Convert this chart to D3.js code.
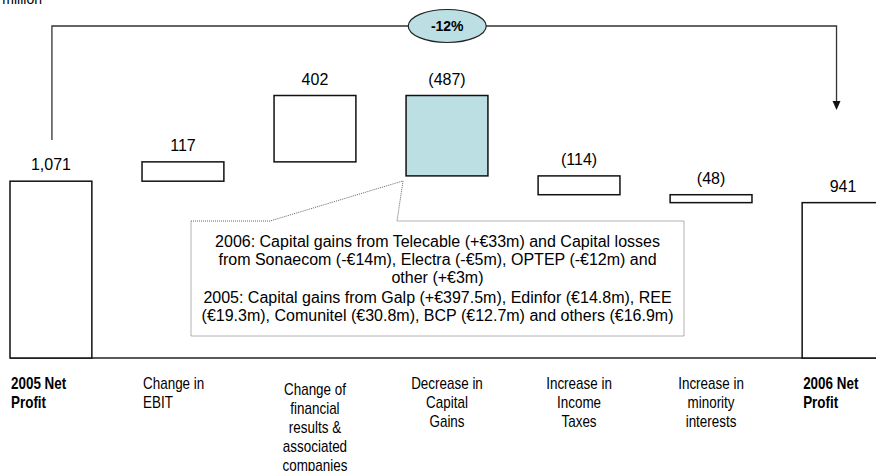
<!DOCTYPE html>
<html>
<head>
<meta charset="utf-8">
<script src="https://cdn.jsdelivr.net/npm/d3@7"></script>
<style>
  body { margin: 0; background: #fff; }
  svg { display: block; }
</style>
</head>
<body>
<div id="chart"></div>
<script>
// Net profit bridge 2005 -> 2006 (EUR million)
var categories = [
  ["2005 Net", "Profit"],
  ["Change in", "EBIT"],
  ["Change of", "financial", "results &", "associated", "companies"],
  ["Decrease in", "Capital", "Gains"],
  ["Increase in", "Income", "Taxes"],
  ["Increase in", "minority", "interests"],
  ["2006 Net", "Profit"]
];
var values = [1071, 117, 402, -487, -114, -48, 941];
var isTotal = [true, false, false, false, false, false, true];
var changeLabel = "-12%";
var unitLabel = "€ million";
var noteLines = [
  ["2006: Capital gains from Telecable (+€33m) and Capital losses",
   "from Sonaecom (-€14m), Electra (-€5m), OPTEP (-€12m) and",
   "other (+€3m)"],
  ["2005: Capital gains from Galp (+€397.5m), Edinfor (€14.8m), REE",
   "(€19.3m), Comunitel (€30.8m), BCP (€12.7m) and others (€16.9m)"]
];

var width = 876, height = 471;

// build waterfall steps
var running = 0;
var steps = values.map(function(v, i) {
  var s;
  if (isTotal[i]) { s = {start: 0, end: v}; running = v; }
  else { s = {start: running, end: running + v}; running += v; }
  s.value = v; s.i = i;
  return s;
});

var svg = d3.select("#chart").append("svg")
  .attr("width", width)
  .attr("height", height);

var x = d3.scaleBand()
  .domain(d3.range(values.length))
  .range([10, 884])
  .paddingInner(0.38)
  .paddingOuter(0);

var y = d3.scaleLinear()
  .domain([0, d3.max(steps, function(d) { return Math.max(d.start, d.end); })])
  .range([358, 95.5]);

var fmt = d3.format(",");

// unit label, cut at the top edge
svg.append("text")
  .attr("x", 42).attr("y", 4)
  .attr("text-anchor", "end")
  .style("font", "14px 'Liberation Sans', Arial, sans-serif")
  .text(unitLabel);

// baseline
svg.append("line")
  .attr("x1", 10).attr("x2", width)
  .attr("y1", y(0)).attr("y2", y(0))
  .attr("stroke", "#222").attr("stroke-width", 1.3);

// callout box with pointer to the capital gains bar
var blue = steps[3];
var bx0 = 191, bx1 = 684, by0 = 221, by1 = 336;
var tipX = x(3) - 3, tipY = y(Math.min(blue.start, blue.end)) + 5;
svg.append("path")
  .attr("d", d3.line()([[bx0, by0], [270, by0], [tipX, tipY], [397, by0],
    [bx1, by0], [bx1, by1], [bx0, by1]]) + "Z")
  .attr("fill", "#fff")
  .attr("stroke", "#666")
  .attr("stroke-width", 1)
  .attr("stroke-dasharray", "1,1");

var note = svg.append("g")
  .style("font", "16px 'Liberation Sans', Arial, sans-serif")
  .attr("text-anchor", "middle");
var ly = 247;
noteLines.forEach(function(par, pi) {
  if (pi > 0) ly += 2;
  par.forEach(function(line) {
    note.append("text")
      .attr("x", (bx0 + bx1) / 2)
      .attr("y", ly)
      .text(line);
    ly += 18;
  });
});

// bars
svg.selectAll("rect.bar")
  .data(steps)
  .enter()
  .append("rect")
  .attr("class", "bar")
  .attr("x", function(d) { return x(d.i); })
  .attr("width", x.bandwidth())
  .attr("y", function(d) { return y(Math.max(d.start, d.end)); })
  .attr("height", function(d) { return Math.abs(y(d.start) - y(d.end)); })
  .attr("fill", function(d) { return d.i === 3 ? "#bbdfe3" : "#fff"; })
  .attr("stroke", "#111")
  .attr("stroke-width", 1.5);

// value labels
svg.selectAll("text.val")
  .data(steps)
  .enter()
  .append("text")
  .attr("class", "val")
  .attr("x", function(d) { return x(d.i) + x.bandwidth() / 2; })
  .attr("y", function(d) { return y(Math.max(d.start, d.end)) - 11; })
  .attr("text-anchor", "middle")
  .style("font", "16px 'Liberation Sans', Arial, sans-serif")
  .text(function(d) { return d.value < 0 ? "(" + fmt(-d.value) + ")" : fmt(d.value); });

// category labels (narrow look, squeezed horizontally)
var cat = svg.selectAll("text.cat")
  .data(categories)
  .enter()
  .append("text")
  .attr("class", "cat")
  .style("font-family", "'Liberation Sans', Arial, sans-serif")
  .style("font-size", "16px")
  .style("font-weight", function(d, i) { return isTotal[i] ? "bold" : "normal"; })
  .attr("text-anchor", function(d, i) { return (isTotal[i] || i === 1) ? "start" : "middle"; })
  .attr("transform", function(d, i) {
    var tx = (isTotal[i] || i === 1) ? x(i) + 1 : x(i) + x.bandwidth() / 2;
    var ty = d.length > 3 ? 395 : 389;
    return "translate(" + tx + "," + ty + ") scale(0.84,1)";
  });

cat.selectAll("tspan")
  .data(function(d) { return d; })
  .enter()
  .append("tspan")
  .attr("x", 0)
  .attr("dy", function(d, j) { return j === 0 ? 0 : 19; })
  .text(function(d) { return d; });

// change bracket from first to last total
var lx = x(0) + x.bandwidth() / 2 + 1;
var rx = x(values.length - 1) + x.bandwidth() * 0.42;
var topY = 26;
svg.append("path")
  .attr("d", d3.line()([[lx, 140], [lx, topY], [rx, topY], [rx, 103]]))
  .attr("fill", "none")
  .attr("stroke", "#333")
  .attr("stroke-width", 1.3);
svg.append("path")
  .attr("d", d3.line()([[rx - 4, 101], [rx + 4, 101], [rx, 110]]) + "Z")
  .attr("fill", "#111");

svg.append("ellipse")
  .attr("cx", (lx + rx) / 2 + 3).attr("cy", topY)
  .attr("rx", 39).attr("ry", 16.5)
  .attr("fill", "#bbdfe3")
  .attr("stroke", "#222")
  .attr("stroke-width", 1.2);
svg.append("text")
  .attr("x", (lx + rx) / 2 + 3).attr("y", topY + 5)
  .attr("text-anchor", "middle")
  .style("font", "bold 14px 'Liberation Sans', Arial, sans-serif")
  .text(changeLabel);
</script>
</body>
</html>
